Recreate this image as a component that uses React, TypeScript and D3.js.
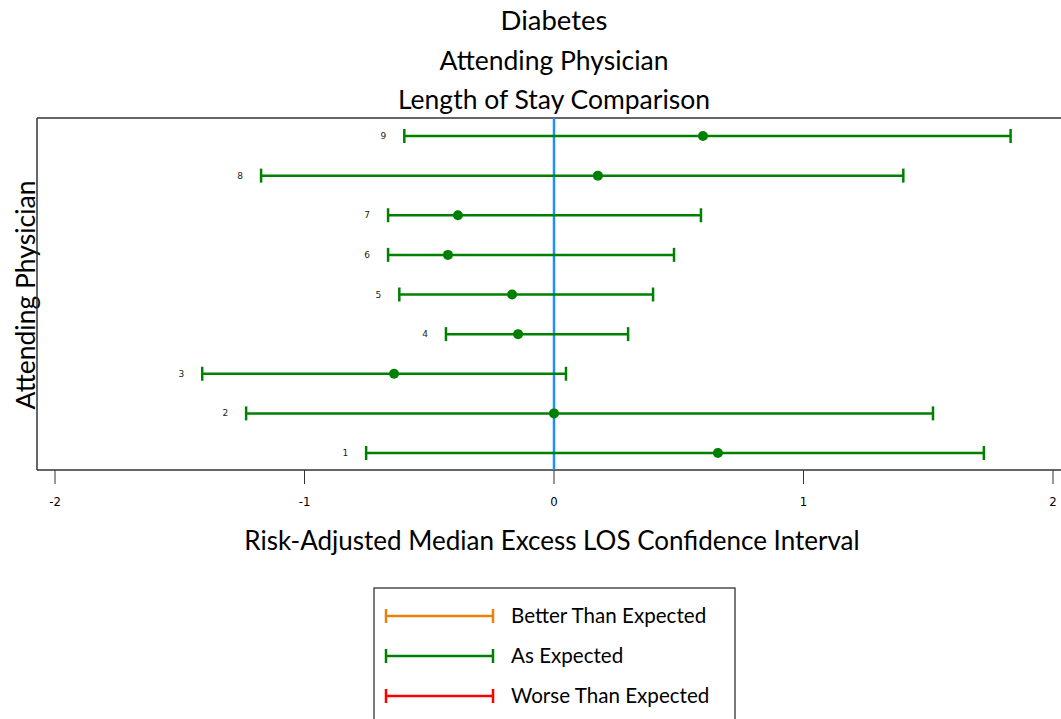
import React from "react";
import * as d3 from "d3";

// physicians, bottom row first
const physicians = ["1", "2", "3", "4", "5", "6", "7", "8", "9"];
const lower = [-0.753, -1.234, -1.41, -0.433, -0.62, -0.665, -0.665, -1.174, -0.6];
const median = [0.657, 0.0, -0.641, -0.144, -0.168, -0.425, -0.385, 0.176, 0.597];
const upper = [1.723, 1.519, 0.048, 0.297, 0.397, 0.481, 0.589, 1.4, 1.83];
const xTicks = [-2, -1, 0, 1, 2];
const legendLabels = ["Better Than Expected", "As Expected", "Worse Than Expected"];
const legendColors = ["#e8820c", "#008000", "#ff0000"];

const W = 1061;
const H = 719;
const frame = { left: 37, top: 118, bottom: 470 };
const mainFont = "Lato, 'Open Sans', sans-serif";

export default function App() {
  const x = d3.scaleLinear().domain([-2, 2]).range([55, 1053]);
  const y = d3.scalePoint().domain([...physicians].reverse()).range([136, 453]);
  const legendY = d3.scalePoint().domain(legendLabels).range([616, 696]);

  const rows = physicians.map((p, i) => ({ p, lo: lower[i], mid: median[i], hi: upper[i] }));
  const cap = 7;

  return (
    <svg width={W} height={H} style={{ position: "absolute", left: 0, top: 0, background: "#fff" }}>
      {/* titles */}
      <g fontFamily={mainFont} fill="#000" textAnchor="middle">
        <text x={554} y={30} fontSize={27.5}>Diabetes</text>
        <text x={554} y={70} fontSize={26.5}>Attending Physician</text>
        <text x={554} y={109} fontSize={26.5}>Length of Stay Comparison</text>
        <text x={552} y={550} fontSize={26}>Risk-Adjusted Median Excess LOS Confidence Interval</text>
        <text transform={`translate(35, 295) rotate(-90)`} fontSize={26.5}>Attending Physician</text>
      </g>

      {/* frame */}
      <g stroke="#333" strokeWidth={1.5} fill="none">
        <line x1={frame.left} x2={W} y1={frame.top} y2={frame.top} />
        <line x1={frame.left} x2={frame.left} y1={frame.top} y2={frame.bottom} />
        <line x1={frame.left} x2={W} y1={frame.bottom} y2={frame.bottom} />
      </g>

      {/* x axis ticks */}
      <g fontFamily="'Liberation Sans Narrow', 'DejaVu Sans Condensed', sans-serif" fontSize={13} textAnchor="middle">
        {xTicks.map((t) => (
          <g key={t} transform={`translate(${x(t)},0)`}>
            <line y1={frame.bottom} y2={frame.bottom + 14} stroke="#333" strokeWidth={1} />
            <text y={frame.bottom + 36} fill="#000">{t}</text>
          </g>
        ))}
      </g>

      {/* zero reference line */}
      <line x1={x(0)} x2={x(0)} y1={frame.top} y2={frame.bottom} stroke="#1e8fff" strokeWidth={2.5} />

      {/* confidence intervals */}
      <g>
        {rows.map((r) => {
          const yy = y(r.p)!;
          return (
            <g key={r.p} stroke="#008000" strokeWidth={2.5}>
              <line x1={x(r.lo)} x2={x(r.hi)} y1={yy} y2={yy} />
              <line x1={x(r.lo)} x2={x(r.lo)} y1={yy - cap} y2={yy + cap} />
              <line x1={x(r.hi)} x2={x(r.hi)} y1={yy - cap} y2={yy + cap} />
              <circle cx={x(r.mid)} cy={yy} r={5} fill="#008000" stroke="none" />
              <text
                x={x(r.lo) - 18}
                y={yy + 3}
                textAnchor="end"
                fontFamily="'DejaVu Sans', sans-serif"
                fontSize={9}
                fill="#222"
                stroke="none"
              >
                {r.p}
              </text>
            </g>
          );
        })}
      </g>

      {/* legend */}
      <rect x={374} y={588} width={361} height={140} fill="#fff" stroke="#222" strokeWidth={1.2} />
      {legendLabels.map((l, i) => {
        const ly = legendY(l)!;
        return (
          <g key={l}>
            <g stroke={legendColors[i]} strokeWidth={2.5}>
              <line x1={386} x2={493} y1={ly} y2={ly} />
              <line x1={386} x2={386} y1={ly - 7} y2={ly + 7} />
              <line x1={493} x2={493} y1={ly - 7} y2={ly + 7} />
            </g>
            <text x={511} y={ly + 7} fontFamily={mainFont} fontSize={20.6} fill="#000">{l}</text>
          </g>
        );
      })}
    </svg>
  );
}
